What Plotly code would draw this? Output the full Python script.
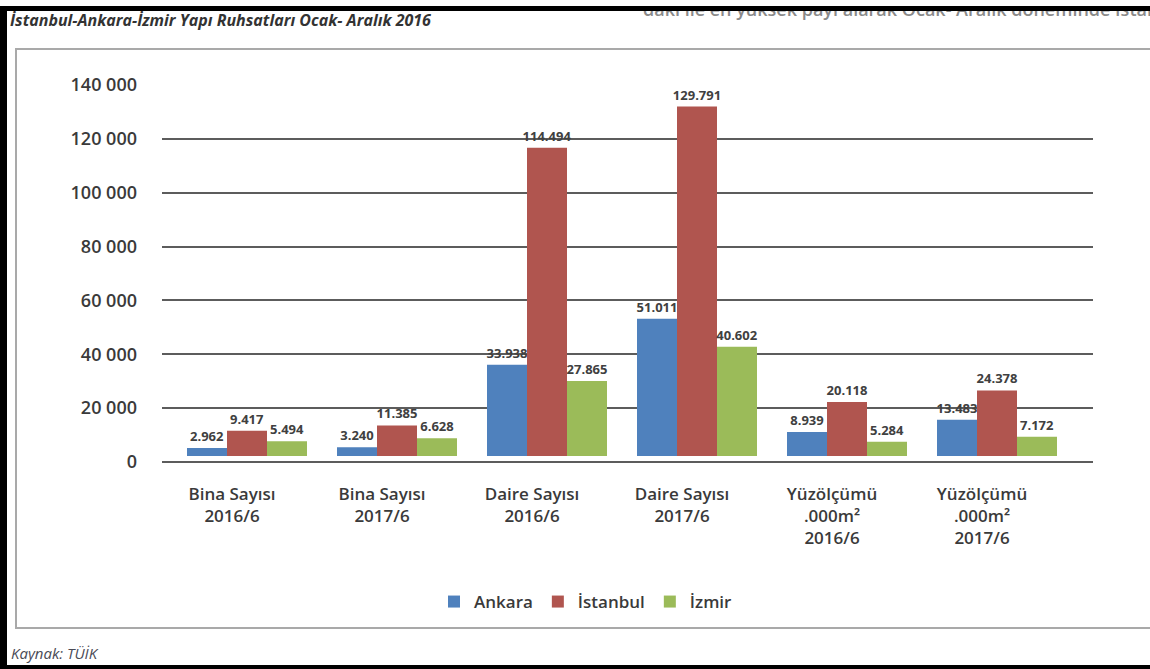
import plotly.graph_objects as go

# ---- data ----
categories = [
    "Bina Sayısı<br>2016/6",
    "Bina Sayısı<br>2017/6",
    "Daire Sayısı<br>2016/6",
    "Daire Sayısı<br>2017/6",
    "Yüzölçümü<br>.000m²<br>2016/6",
    "Yüzölçümü<br>.000m²<br>2017/6",
]
ankara = [2962, 3240, 33938, 51011, 8939, 13483]
istanbul = [9417, 11385, 114494, 129791, 20118, 24378]
izmir = [5494, 6628, 27865, 40602, 5284, 7172]
series_names = ["Ankara", "İstanbul", "İzmir"]
y_ticks = [0, 20000, 40000, 60000, 80000, 100000, 120000, 140000]

title_text = "İstanbul-Ankara-İzmir Yapı Ruhsatları Ocak- Aralık 2016"
source_text = "Kaynak: TÜİK"
cut_text = "daki ile en yüksek payı alarak Ocak- Aralık döneminde İstanbul"

# ---- style ----
W, H = 1150, 669
PL, PR, PT, PB = 162, 1093, 85, 462  # plot area in px
colors = ["#4f81bd", "#b0554f", "#9bbb59"]
FONT = "Open Sans"
TXT = "#3a3a3a"
BAR_BASE_OFFSET = 2200  # bars float slightly above the zero line in the source


def fx(px):
    return (px - PL) / (PR - PL)


def fy(py):
    return (PB - py) / (PB - PT)


def fmt(v):
    return f"{v:,}".replace(",", ".")


fig = go.Figure()
for name, vals, col in zip(series_names, [ankara, istanbul, izmir], colors):
    fig.add_trace(go.Bar(
        name=name, x=categories, y=vals, base=BAR_BASE_OFFSET,
        marker=dict(color=col, line=dict(width=0)),
        text=[fmt(v) for v in vals], textposition="outside",
        textfont=dict(family=FONT, size=13, color="#404040", weight="bold"),
        constraintext="none", cliponaxis=False, hoverinfo="skip",
    ))

fig.update_layout(
    width=W, height=H,
    margin=dict(l=PL, r=W - PR, t=PT, b=H - PB, autoexpand=False),
    paper_bgcolor="white", plot_bgcolor="white",
    barmode="group", bargap=0.2, bargroupgap=0,
    separators=", ",
    font=dict(family=FONT, color=TXT),
    showlegend=True,
    legend=dict(orientation="h", x=fx(586), xanchor="center", y=fy(602), yanchor="middle",
                font=dict(family=FONT, size=17, color=TXT, weight=600),
                bgcolor="rgba(0,0,0,0)"),
)
fig.update_xaxes(
    range=[-(247 - PL) / 150, 5 + (PR - 997) / 150],
    showgrid=False, showline=False, zeroline=False, ticks="",
    tickfont=dict(family=FONT, size=17, color=TXT, weight=600),
    ticklabelstandoff=20, ticklabelshift=-15,
)
fig.update_yaxes(
    range=[0, 140000], tickvals=y_ticks, tickformat=",d",
    showgrid=True, gridcolor="#5c5c5c", gridwidth=1.6,
    zeroline=True, zerolinecolor="#5c5c5c", zerolinewidth=1.6,
    showline=False, ticks="",
    tickfont=dict(family=FONT, size=18, color=TXT, weight=600),
    ticklabelstandoff=24,
)

shapes = [
    # inner gray frame
    dict(type="rect", xref="paper", yref="paper", x0=fx(16), x1=fx(1170), y0=fy(628), y1=fy(49),
         line=dict(color="#a9a9a9", width=2), fillcolor="rgba(0,0,0,0)", layer="below"),
    # black page borders
    dict(type="rect", xref="paper", yref="paper", x0=fx(0), x1=fx(7), y0=fy(H), y1=fy(0),
         line=dict(width=0), fillcolor="black", layer="above"),
    dict(type="rect", xref="paper", yref="paper", x0=fx(0), x1=fx(W), y0=fy(H), y1=fy(665),
         line=dict(width=0), fillcolor="black", layer="above"),
]
fig.update_layout(shapes=shapes)

annotations = [
    dict(text=title_text, xref="paper", yref="paper", x=fx(8), y=fy(20), xanchor="left", yanchor="middle",
         showarrow=False, font=dict(family=FONT, size=16, color="#333333", weight="bold", style="italic")),
    dict(text=source_text, xref="paper", yref="paper", x=fx(9), y=fy(653), xanchor="left", yanchor="middle",
         showarrow=False, font=dict(family=FONT, size=15, color="#4a4a55", style="italic")),
    # text cut off at the top of the page
    dict(text=cut_text, xref="paper", yref="paper", x=fx(642), y=fy(22), xanchor="left", yanchor="bottom",
         showarrow=False, borderpad=0, font=dict(family=FONT, size=18, color="#8a8a8a", weight=600)),
    # white cover above black band
    dict(text=" ", xref="paper", yref="paper", x=fx(0), y=fy(0), xanchor="left", yanchor="top",
         showarrow=False, width=W, height=6, borderpad=0, borderwidth=0, bgcolor="white",
         font=dict(size=1)),
    # black top band
    dict(text=" ", xref="paper", yref="paper", x=fx(0), y=fy(6), xanchor="left", yanchor="top",
         showarrow=False, width=W, height=5, borderpad=0, borderwidth=0, bgcolor="black",
         font=dict(size=1)),
]
fig.update_layout(annotations=annotations)

fig.write_html("out.html", config={"displayModeBar": False},
               post_script="document.body.style.margin='0';")
